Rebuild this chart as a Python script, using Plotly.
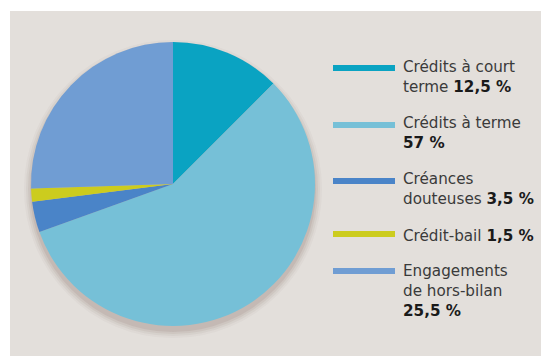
import plotly.graph_objects as go

# Répartition des encours
categories = ["Crédits à court terme", "Crédits à terme", "Créances douteuses",
              "Crédit-bail", "Engagements de hors-bilan"]
values = [12.5, 57, 3.5, 1.5, 25.5]
value_labels = ["12,5 %", "57 %", "3,5 %", "1,5 %", "25,5 %"]
colors = ["#0aa3c2", "#76c0d7", "#4a84c8", "#cccc1e", "#709dd3"]
# legend text lines; the value is appended to the last line of each entry
legend_lines = [
    ["Crédits à court", "terme"],
    ["Crédits à terme", ""],
    ["Créances", "douteuses"],
    ["Crédit-bail"],
    ["Engagements", "de hors-bilan", ""],
]

W, H = 541, 356
BG = "#e3dfdb"
cx, cy, r = 173, 184, 142


def px(x):
    return x / W


def py(y):
    return 1 - y / H


fig = go.Figure()
fig.add_trace(go.Pie(
    labels=categories, values=values, sort=False, direction="clockwise",
    rotation=0, marker=dict(colors=colors, line=dict(width=0)),
    textinfo="none", hoverinfo="label+percent", showlegend=False,
    domain=dict(x=[px(cx - r), px(cx + r)], y=[py(cy + r), py(cy - r)]),
))

shapes = [dict(type="rect", xref="paper", yref="paper", x0=px(10), x1=1,
               y0=0, y1=py(11), fillcolor=BG, line=dict(width=0), layer="below")]
# soft drop shadow under the pie
for grow, op in [(7, 0.04), (5, 0.06), (3, 0.08), (1, 0.10)]:
    off = 5
    shapes.append(dict(type="circle", xref="paper", yref="paper",
                       x0=px(cx - r - grow), x1=px(cx + r + grow),
                       y0=py(cy + off + r + grow), y1=py(cy + off - r - grow),
                       fillcolor=f"rgba(110,80,70,{op})", line=dict(width=0),
                       layer="below"))

annotations = []
swatch_y = [68, 125, 181, 234, 271]
first_baseline = [73, 129, 185, 241, 277]
FS = 15.2
line_h = 1.3 * FS
FONT = "DejaVu Sans"
for k in range(len(categories)):
    shapes.append(dict(type="line", xref="paper", yref="paper",
                       x0=px(333), x1=px(395), y0=py(swatch_y[k]), y1=py(swatch_y[k]),
                       line=dict(color=colors[k], width=6)))
    lines = list(legend_lines[k])
    last = lines[-1]
    sep = " " if last else ""
    lines[-1] = f"{last}{sep}<b><span style='color:#1a1a1a'>{value_labels[k]}</span></b>"
    n = len(lines)
    mid = first_baseline[k] + (n - 1) * line_h / 2 - 5.5
    annotations.append(dict(
        x=px(401), y=py(mid), xref="paper", yref="paper",
        xanchor="left", yanchor="middle", align="left", showarrow=False,
        text="<br>".join(lines),
        font=dict(family=FONT, size=FS, color="#3a3a3a"),
    ))

fig.update_layout(
    width=W, height=H, margin=dict(l=0, r=0, t=0, b=0),
    paper_bgcolor="white", plot_bgcolor="white",
    shapes=shapes, annotations=annotations,
)
fig.write_html("out.html")
